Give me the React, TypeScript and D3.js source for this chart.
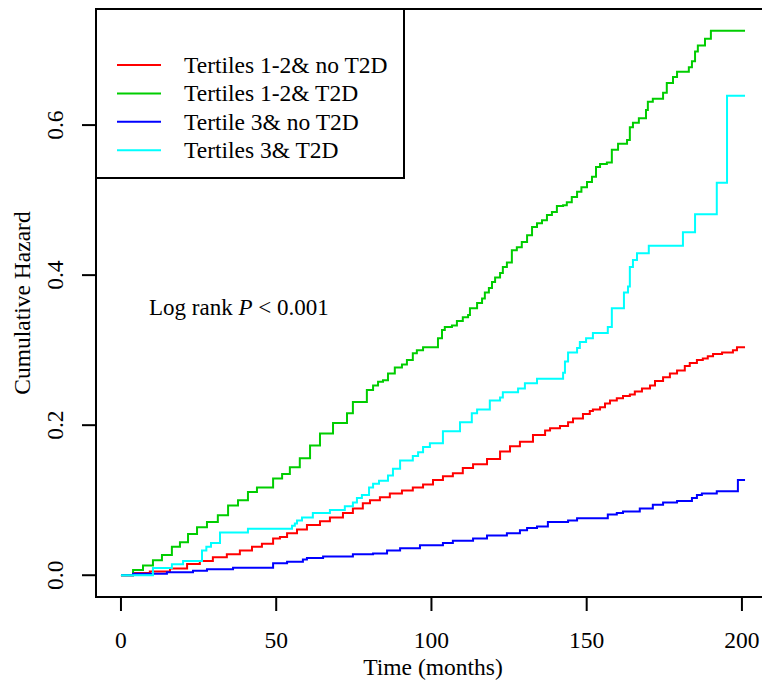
import React, { useEffect, useRef } from 'react'
import * as d3 from 'd3'

// step points [time (months), cumulative hazard]
const redSteps = [
  [0, 0], [3.9, 0.003], [9.3, 0.005], [15.8, 0.009], [21.3, 0.015], [25.4, 0.019], [29.6, 0.024],
  [34.1, 0.028], [38.3, 0.033], [42.2, 0.038], [45.4, 0.042], [49, 0.049], [51.2, 0.051], [53.5, 0.056],
  [56.7, 0.061], [59.9, 0.067], [64.1, 0.072], [67.3, 0.077], [71.5, 0.083], [74.7, 0.089], [77.9, 0.096],
  [80.2, 0.1], [83.4, 0.104], [86.6, 0.109], [90.5, 0.113], [94, 0.117], [97.3, 0.121], [100.5, 0.127],
  [103.7, 0.132], [106.9, 0.136], [110.1, 0.143], [113.4, 0.148], [117.9, 0.155], [122.1, 0.165],
  [125.3, 0.172], [128.5, 0.178], [132.7, 0.187], [136.6, 0.193], [138.2, 0.196], [141.4, 0.199],
  [144, 0.204], [145.6, 0.209], [148.8, 0.215], [151, 0.219], [152, 0.221], [154.3, 0.224], [155.9, 0.229],
  [157.5, 0.233], [159.7, 0.236], [161.7, 0.239], [163.9, 0.241], [165.5, 0.245], [167.8, 0.249],
  [170.4, 0.253], [172, 0.259], [174.6, 0.264], [176.8, 0.269], [179.1, 0.273], [181.6, 0.279],
  [183.2, 0.283], [185.5, 0.287], [187.4, 0.289], [189, 0.292], [190.7, 0.295], [193.6, 0.297],
  [197.1, 0.3], [198.4, 0.304], [201, 0.304]
]

const greenSteps = [
  [0, 0], [3.9, 0.007], [7.1, 0.013], [10.3, 0.02], [13.2, 0.027], [16.4, 0.038], [19, 0.044], [21.6, 0.055],
  [24.5, 0.064], [27.7, 0.071], [31.2, 0.08], [34.5, 0.093], [37.7, 0.1], [40.9, 0.111], [43.8, 0.117],
  [49, 0.129], [51.9, 0.135], [54.4, 0.144], [57.6, 0.156], [60.9, 0.173], [64.1, 0.189], [68.3, 0.203],
  [72.8, 0.216], [74.7, 0.231], [79.2, 0.247], [81.2, 0.253], [82.8, 0.258], [84.4, 0.26], [86, 0.269],
  [88.2, 0.277], [90.5, 0.281], [92.1, 0.287], [94, 0.296], [95.3, 0.3], [97.3, 0.304], [102.1, 0.316],
  [103.4, 0.327], [104.3, 0.331], [106.6, 0.333], [108.2, 0.339], [110.1, 0.344], [111.8, 0.347],
  [112.4, 0.356], [114.7, 0.363], [116.3, 0.369], [117.2, 0.377], [118.5, 0.383], [119.5, 0.391],
  [120.5, 0.397], [122.1, 0.403], [123, 0.411], [124.3, 0.417], [125.9, 0.433], [127.5, 0.437],
  [129.1, 0.444], [130.8, 0.453], [132.4, 0.464], [134, 0.469], [135.6, 0.473], [137.2, 0.48],
  [138.8, 0.484], [140.4, 0.492], [142.4, 0.493], [143.6, 0.497], [145.2, 0.504], [146.9, 0.511],
  [148.3, 0.517], [150.1, 0.524], [151.7, 0.531], [153, 0.544], [154.3, 0.548], [156.5, 0.55],
  [158.1, 0.567], [160.1, 0.575], [163, 0.58], [163.9, 0.597], [164.9, 0.603], [166.8, 0.609],
  [169.1, 0.62], [169.7, 0.631], [171.3, 0.635], [174.6, 0.643], [175.8, 0.656], [177.8, 0.664],
  [179.1, 0.671], [182.9, 0.677], [183.9, 0.685], [184.9, 0.698], [185.8, 0.706], [188.1, 0.715],
  [190, 0.7257], [201, 0.7257]
]

const blueSteps = [
  [0, 0], [3.9, 0.002], [14.8, 0.004], [23.2, 0.006], [27.7, 0.008], [36.1, 0.01], [49, 0.016],
  [53.5, 0.018], [58.6, 0.021], [59.9, 0.023], [65.1, 0.025], [74.7, 0.028], [81.2, 0.029], [85.7, 0.033],
  [89.9, 0.036], [96.3, 0.04], [103.7, 0.043], [106.9, 0.046], [113.4, 0.049], [117.9, 0.053],
  [124.3, 0.056], [128.5, 0.06], [130.8, 0.063], [134, 0.065], [137.5, 0.071], [144, 0.073],
  [146.9, 0.076], [156.8, 0.081], [159.7, 0.083], [161.7, 0.085], [167.1, 0.089], [171.3, 0.094],
  [174.6, 0.097], [179.1, 0.099], [183.9, 0.103], [185.5, 0.107], [187.1, 0.109], [191.9, 0.112],
  [198.7, 0.127], [201, 0.127]
]

const cyanSteps = [
  [0, 0], [10.3, 0.0097], [16.4, 0.0147], [20, 0.019], [26.1, 0.033], [27.5, 0.038], [29, 0.043],
  [31.9, 0.057], [40.9, 0.062], [55.1, 0.066], [56, 0.069], [56.7, 0.073], [58.3, 0.077], [61.8, 0.083],
  [67.3, 0.087], [72.1, 0.092], [74.7, 0.097], [76, 0.103], [77.6, 0.107], [79.9, 0.117], [81.2, 0.122],
  [83.1, 0.126], [86, 0.133], [87.6, 0.142], [89.9, 0.153], [94, 0.159], [95.7, 0.164], [97.3, 0.171],
  [99.5, 0.176], [103.7, 0.192], [109.2, 0.204], [113, 0.216], [114.7, 0.221], [118.8, 0.233],
  [122.1, 0.237], [123, 0.244], [127.9, 0.249], [130.1, 0.256], [134, 0.262], [142.4, 0.27],
  [143, 0.285], [144, 0.297], [146.9, 0.303], [147.8, 0.311], [149.8, 0.316], [152, 0.323],
  [156.8, 0.331], [158.1, 0.356], [162, 0.377], [163.3, 0.385], [163.9, 0.411], [164.9, 0.42],
  [166.2, 0.429], [170, 0.439], [181, 0.457], [184.9, 0.481], [191.9, 0.523], [195.2, 0.639],
  [201, 0.639]
]

const seriesNames = ['Tertiles 1-2& no T2D', 'Tertiles 1-2& T2D', 'Tertile 3& no T2D', 'Tertiles 3& T2D']
const seriesColors = ['#ff0000', '#00cd00', '#0000ff', '#00ffff']
const xTicks = [0, 50, 100, 150, 200]
const yTicks = [0, 0.2, 0.4, 0.6]

const App = () => {
  const svgRef = useRef(null)

  useEffect(() => {
    const width = 762
    const height = 688
    const font = '"Liberation Serif", "Times New Roman", serif'
    const svg = d3.select(svgRef.current)
    svg.selectAll('*').remove()
    svg.attr('width', width).attr('height', height)

    // R style 4% padding on both axes
    const xMax = 201, yMax = 0.7257
    const x = d3.scaleLinear().domain([-0.04 * xMax, xMax * 1.04]).range([96, 770])
    const y = d3.scaleLinear().domain([-0.04 * yMax, yMax * 1.04]).range([597, 9])

    const all = [redSteps, greenSteps, blueSteps, cyanSteps]

    const line = d3.line()
      .x(d => x(d[0]))
      .y(d => y(d[1]))
      .curve(d3.curveStepAfter)

    svg.selectAll('path.curve')
      .data(all)
      .join('path')
      .attr('class', 'curve')
      .attr('d', d => line(d))
      .attr('fill', 'none')
      .attr('stroke', (d, i) => seriesColors[i])
      .attr('stroke-width', 2)

    // plot box
    svg.append('rect')
      .attr('x', 96).attr('y', 9)
      .attr('width', 770 - 96).attr('height', 597 - 9)
      .attr('fill', 'none').attr('stroke', '#000').attr('stroke-width', 2)

    // x axis
    const xa = svg.append('g')
    xa.append('line')
      .attr('x1', x(0)).attr('x2', x(200)).attr('y1', 597).attr('y2', 597)
      .attr('stroke', '#000').attr('stroke-width', 2)
    xa.selectAll('line.t').data(xTicks).join('line')
      .attr('class', 't')
      .attr('x1', d => x(d)).attr('x2', d => x(d))
      .attr('y1', 597).attr('y2', 611)
      .attr('stroke', '#000').attr('stroke-width', 2)
    xa.selectAll('text').data(xTicks).join('text')
      .attr('x', d => x(d)).attr('y', 648)
      .attr('text-anchor', 'middle')
      .style('font-family', font).style('font-size', '23.5px')
      .text(d => d)

    // y axis
    const ya = svg.append('g')
    ya.append('line')
      .attr('x1', 96).attr('x2', 96).attr('y1', y(0)).attr('y2', y(0.6))
      .attr('stroke', '#000').attr('stroke-width', 2)
    ya.selectAll('line.t').data(yTicks).join('line')
      .attr('class', 't')
      .attr('x1', 82).attr('x2', 96)
      .attr('y1', d => y(d)).attr('y2', d => y(d))
      .attr('stroke', '#000').attr('stroke-width', 2)
    ya.selectAll('text').data(yTicks).join('text')
      .attr('transform', d => `translate(63,${y(d)}) rotate(-90)`)
      .attr('text-anchor', 'middle')
      .style('font-family', font).style('font-size', '23.5px')
      .text(d => d3.format('.1f')(d))

    // titles
    svg.append('text')
      .attr('x', (96 + 770) / 2).attr('y', 675)
      .attr('text-anchor', 'middle')
      .style('font-family', font).style('font-size', '23.5px')
      .text('Time (months)')
    svg.append('text')
      .attr('transform', `translate(30,${(9 + 597) / 2}) rotate(-90)`)
      .attr('text-anchor', 'middle')
      .style('font-family', font).style('font-size', '23.5px')
      .text('Cumulative Hazard')

    // log rank annotation
    const lr = svg.append('text')
      .attr('x', 149).attr('y', 315)
      .style('font-family', font).style('font-size', '23px')
    lr.append('tspan').text('Log rank ')
    lr.append('tspan').style('font-style', 'italic').text('P')
    lr.append('tspan').text(' < 0.001')

    // legend
    const lg = svg.append('g')
    lg.append('rect')
      .attr('x', 96).attr('y', 9).attr('width', 404 - 96).attr('height', 178 - 9)
      .attr('fill', '#fff').attr('stroke', '#000').attr('stroke-width', 2)
    const rows = lg.selectAll('g.row').data(seriesNames).join('g')
      .attr('class', 'row')
      .attr('transform', (d, i) => `translate(0,${65 + i * 28.4})`)
    rows.append('line')
      .attr('x1', 117).attr('x2', 161).attr('y1', 0).attr('y2', 0)
      .attr('stroke', (d, i) => seriesColors[i]).attr('stroke-width', 2)
    rows.append('text')
      .attr('x', 184).attr('y', 8)
      .style('font-family', font).style('font-size', '23.5px')
      .text(d => d)
  }, [])

  return (
    <svg ref={svgRef} style={{ position: 'absolute', left: 0, top: 0 }}></svg>
  )
}

export default App
